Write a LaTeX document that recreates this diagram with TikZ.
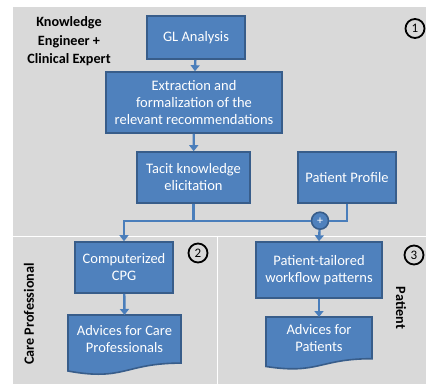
\documentclass[tikz,border=0pt]{standalone}
\usepackage{fontspec}
\setmainfont{Carlito}
\usetikzlibrary{arrows.meta}
\definecolor{boxfill}{HTML}{4F81BD}
\definecolor{boxline}{HTML}{385D8A}
\definecolor{arrowc}{HTML}{4A7EBB}
\definecolor{bggray}{HTML}{D9D9D9}
\tikzset{
  box/.style={draw=boxline, line width=1.6pt, fill=boxfill, text=white, align=center,
    font=\fontsize{14.5}{17}\selectfont, inner sep=0pt},
  doctext/.style={text=white, align=center, font=\fontsize{14.5}{17.5}\selectfont, inner sep=0pt},
  conn/.style={draw=arrowc, line width=2.4pt},
  arr/.style={conn, -{Triangle[width=9pt,length=6pt]}},
  lbl/.style={font=\bfseries\fontsize{14.2}{18.5}\selectfont, align=center, text=black},
  num/.style={circle, draw=black, line width=1.8pt, minimum size=19pt, inner sep=0pt,
    font=\fontsize{13}{13}\selectfont},
}
\begin{document}
\begin{tikzpicture}[x=1pt,y=-1pt]
\useasboundingbox (0,0) rectangle (426,384);
\fill[white] (0,0) rectangle (426,384);
% panels
\fill[bggray] (13,7) rectangle (426,235.5);
\fill[bggray] (13,237) rectangle (216.5,384);
\fill[bggray] (218,237) rectangle (426,384);

% labels
\node[lbl] (ke) at (69,41.5) {Knowledge\\Engineer +\\Clinical Expert};
\node[lbl, rotate=90] (cp) at (29,314) {Care Professional};
\node[lbl, rotate=-90] (pt) at (401,308) {Patient};
\node[num] (n1) at (415,28.5) {1};
\node[num] (n2) at (198,253) {2};
\node[num] (n3) at (414,255) {3};

% boxes
\node[box, minimum width=98pt, minimum height=43pt] (gl) at (196,37.5) {GL Analysis};
\node[box, minimum width=176pt, minimum height=61pt] (ex) at (194,102.5) {Extraction and\\formalization of the\\relevant recommendations};
\node[box, minimum width=113pt, minimum height=51pt] (tk) at (193.5,177.5) {Tacit knowledge\\elicitation};
\node[box, minimum width=98pt, minimum height=51pt] (pp) at (347,177.5) {Patient Profile};
\node[box, minimum width=98pt, minimum height=51pt] (cc) at (124,267.5) {Computerized\\CPG};
\node[box, minimum width=126pt, minimum height=56pt] (pw) at (319,270) {Patient-tailored\\workflow patterns};

% document shapes
\filldraw[draw=boxline, line width=1.6pt, fill=boxfill]
  (68,315) -- (181,315) -- (181,363.1)
  .. controls (124.5,363.1) and (124.5,381.4) .. (68,371) -- cycle;
\node[doctext] (acp) at (124.5,339) {Advices for Care\\Professionals};
\coordinate (acptop) at (124.5,315);
\filldraw[draw=boxline, line width=1.6pt, fill=boxfill]
  (266,317) -- (372,317) -- (372,358.7)
  .. controls (319,358.7) and (319,374.6) .. (266,366.5) -- cycle;
\node[doctext] (ap) at (319,338) {Advices for\\Patients};
\coordinate (aptop) at (319,317);

% plus join
\node[circle, draw=boxline, line width=1.6pt, fill=boxfill, minimum size=17pt, inner sep=0pt,
  text=white, font=\fontsize{12}{12}\selectfont] (plus) at (320,220.7) {+};

% connectors
\coordinate (jl) at (124,220.7);
\coordinate (jt) at (193.5,220.7);
\coordinate (jp) at (347,220.7);
\draw[arr] (gl) -- (ex);
\draw[arr] (ex) -- (tk);
\draw[conn] (tk.south) -- (jt);
\draw[conn] (jl) -- (plus.west);
\draw[arr] ([xshift=-1.2pt]jl) -- (jl) -- (cc.north);
\draw[conn] (pp.south) -- (jp) -- (plus.east);
\draw[arr] (plus) -- (pw.north);
\draw[arr] (cc) -- (acptop);
\draw[arr] (pw) -- (aptop);
\end{tikzpicture}
\end{document}
